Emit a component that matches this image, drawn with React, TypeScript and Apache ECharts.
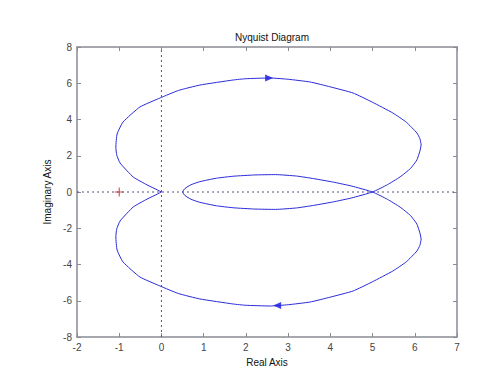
import React, { useEffect, useRef } from "react";
import * as echarts from "echarts";

// Negative-frequency branch: origin -> upper outer lobe -> (5,0) -> lower inner loop -> (0.5,0)
const negX = [0, -0.1, -0.34, -0.67, -0.98, -1.06, -1.08, -1.05, -0.91, -0.51, -0.03, 0.4, 0.91, 1.7, 2.0, 2.57, 3.0, 3.52, 4.0, 4.54, 5.0, 5.48, 5.8, 6.05, 6.12, 6.15, 6.12, 6.05, 5.9, 5.65, 5.35, 5.0, 4.5, 4.06, 3.6, 3.2, 2.7, 2.2, 1.7, 1.3, 0.91, 0.7, 0.56, 0.5];
const negY = [0, 0.12, 0.39, 0.83, 1.6, 2.05, 2.48, 3.2, 3.86, 4.69, 5.19, 5.6, 5.9, 6.18, 6.25, 6.29, 6.22, 6.07, 5.8, 5.46, 4.95, 4.36, 3.85, 3.26, 2.95, 2.6, 2.25, 1.77, 1.3, 0.83, 0.4, 0, -0.33, -0.55, -0.74, -0.88, -0.96, -0.94, -0.87, -0.76, -0.57, -0.4, -0.2, 0];
// Positive-frequency branch: (0.5,0) -> upper inner loop -> (5,0) -> lower outer lobe -> origin
const posX = [0.5, 0.56, 0.7, 0.91, 1.3, 1.7, 2.2, 2.7, 3.2, 3.6, 4.06, 4.5, 5.0, 5.35, 5.65, 5.9, 6.05, 6.12, 6.15, 6.12, 6.05, 5.8, 5.48, 5.0, 4.54, 4.0, 3.52, 3.0, 2.57, 2.0, 1.7, 0.91, 0.4, -0.03, -0.51, -0.91, -1.05, -1.08, -1.06, -0.98, -0.67, -0.34, -0.1, 0];
const posY = [0, 0.2, 0.4, 0.57, 0.76, 0.87, 0.94, 0.96, 0.88, 0.74, 0.55, 0.33, 0, -0.4, -0.83, -1.3, -1.77, -2.25, -2.6, -2.95, -3.26, -3.85, -4.36, -4.95, -5.46, -5.8, -6.07, -6.22, -6.29, -6.25, -6.18, -5.9, -5.6, -5.19, -4.69, -3.86, -3.2, -2.48, -2.05, -1.6, -0.83, -0.39, -0.12, 0];
// Direction arrows
const arrowPts = [
  [2.55, 6.29],
  [2.74, -6.26],
];
const arrowRot = [-90, 90];
const criticalPoint = [-1, 0];
const xTicks = [-2, 7, 1];
const yTicks = [-8, 8, 2];

export default function App() {
  const ref = useRef<HTMLDivElement>(null);
  useEffect(() => {
    if (!ref.current) return;
    const chart = echarts.init(ref.current, null, { renderer: "svg" });
    const curve = negX.map((x, i) => [x, negY[i]]).concat(posX.map((x, i) => [x, posY[i]]));
    const blue = "#2a2ad8";
    const frame = "#8a8a94";
    const labelColor = "#444";
    const font = "Liberation Sans";
    const axisBase = {
      type: "value" as const,
      axisLine: { show: true, onZero: false, lineStyle: { color: frame, width: 1.5 } },
      axisTick: { show: true, inside: true, length: 4, lineStyle: { color: frame } },
      splitLine: { show: false },
    };
    chart.setOption({
      animation: false,
      backgroundColor: "#ffffff",
      title: {
        text: "Nyquist Diagram",
        left: 267,
        top: 27,
        textAlign: "center",
        textStyle: { fontFamily: font, fontSize: 10, fontWeight: "normal", color: "#111" },
      },
      grid: { left: 77, right: 47, top: 47, bottom: 41, containLabel: false, outerBoundsMode: "none" },
      xAxis: [
        {
          ...axisBase,
          position: "bottom",
          min: xTicks[0],
          max: xTicks[1],
          interval: xTicks[2],
          name: "Real Axis",
          nameLocation: "middle",
          nameGap: 20,
          nameTextStyle: { fontFamily: font, fontSize: 10, color: "#111" },
          axisLabel: { fontFamily: font, fontSize: 10, color: labelColor, margin: 5 },
        },
        {
          ...axisBase,
          position: "top",
          min: xTicks[0],
          max: xTicks[1],
          interval: xTicks[2],
          axisLabel: { show: false },
        },
      ],
      yAxis: [
        {
          ...axisBase,
          position: "left",
          min: yTicks[0],
          max: yTicks[1],
          interval: yTicks[2],
          name: "Imaginary Axis",
          nameLocation: "middle",
          nameGap: 22,
          nameTextStyle: { fontFamily: font, fontSize: 10, color: "#111" },
          axisLabel: { fontFamily: font, fontSize: 10, color: labelColor, margin: 5 },
        },
        {
          ...axisBase,
          position: "right",
          min: yTicks[0],
          max: yTicks[1],
          interval: yTicks[2],
          axisLabel: { show: false },
        },
      ],
      series: [
        {
          type: "line",
          data: [[0, yTicks[0]], [0, yTicks[1]]],
          showSymbol: false,
          silent: true,
          lineStyle: { color: "#55557a", width: 1, type: [2, 3] },
        },
        {
          type: "line",
          data: [[xTicks[0], 0], [xTicks[1], 0]],
          showSymbol: false,
          silent: true,
          lineStyle: { color: "#55557a", width: 1, type: [2, 3] },
        },
        {
          type: "line",
          data: curve,
          showSymbol: false,
          smooth: 0.15,
          lineStyle: { color: blue, width: 1 },
        },
        {
          type: "scatter",
          data: arrowPts.map((p, i) => ({ value: p, symbolRotate: arrowRot[i] })),
          symbol: "triangle",
          symbolSize: [7, 8],
          itemStyle: { color: "#1010e0" },
        },
        {
          type: "scatter",
          data: [criticalPoint],
          symbol: "path://M4.4,0H5.6V4.4H10V5.6H5.6V10H4.4V5.6H0V4.4H4.4Z",
          symbolSize: 9,
          itemStyle: { color: "#e01010" },
        },
      ],
    });
    return () => chart.dispose();
  }, []);
  return <div ref={ref} style={{ position: "fixed", left: 0, top: 0, width: 504, height: 378, background: "#fff" }} />;
}
